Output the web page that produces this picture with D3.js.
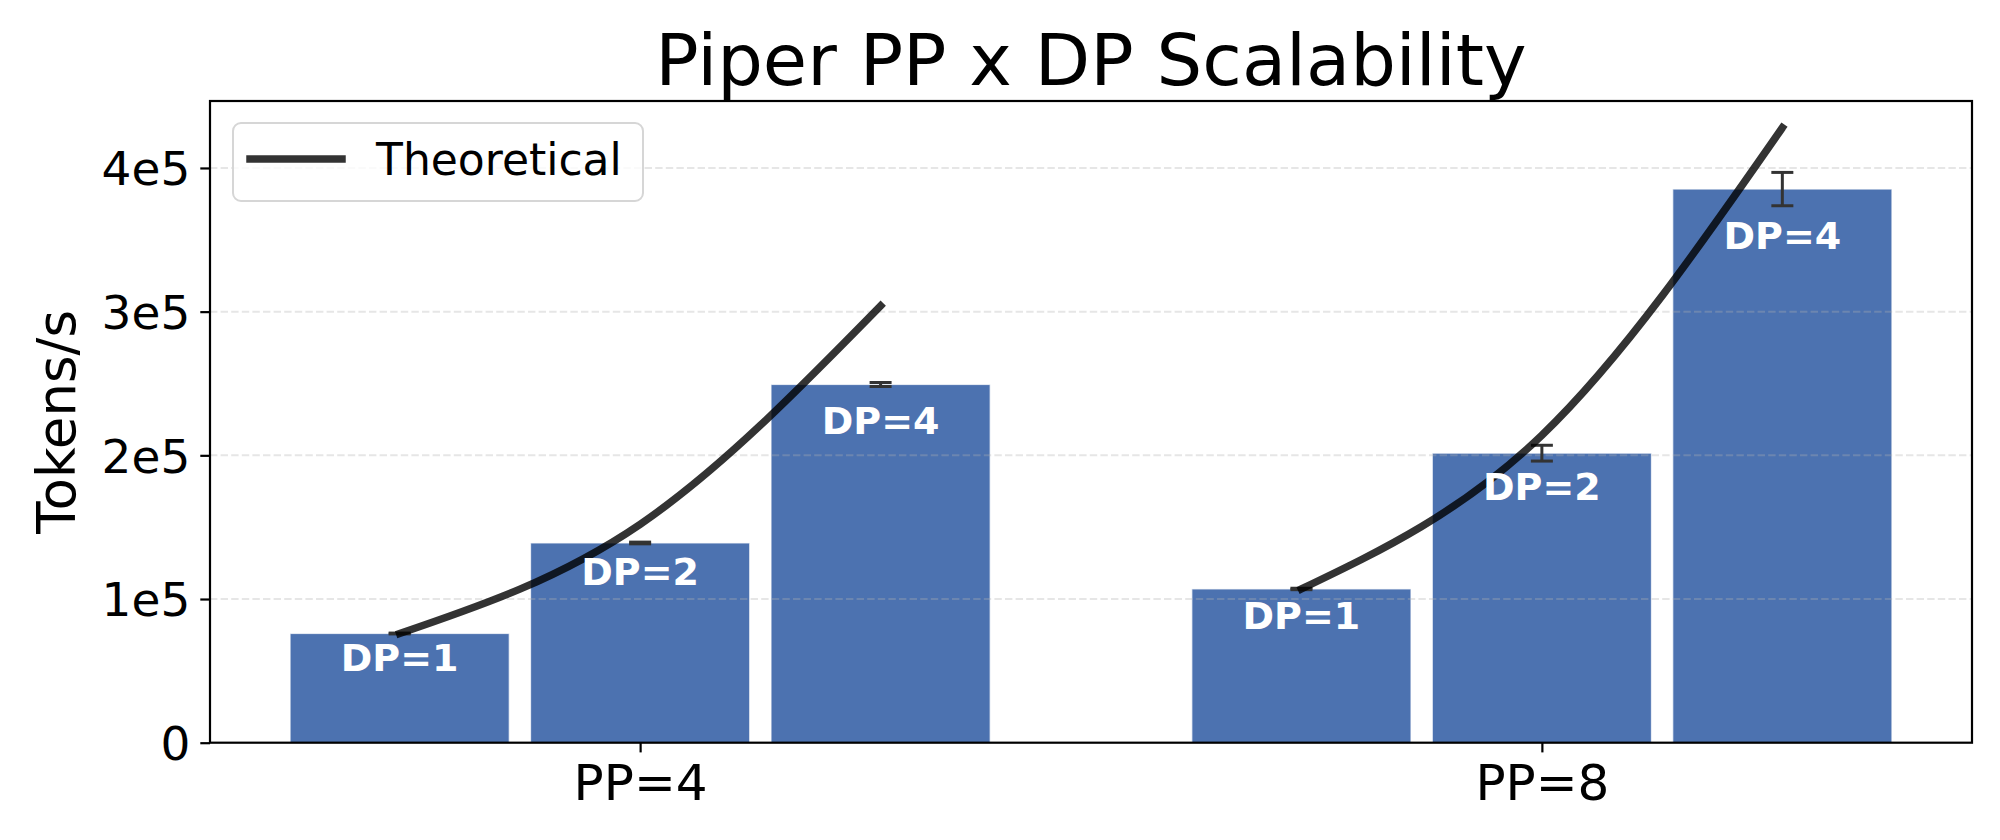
<!DOCTYPE html>
<html>
<head>
<meta charset="utf-8">
<script src="https://cdn.jsdelivr.net/npm/d3@7"></script>
<style>
  html, body { margin: 0; padding: 0; background: #fff; }
  svg { display: block; }
  text { font-family: "DejaVu Sans", sans-serif; }
</style>
</head>
<body>
<svg id="chart" width="2000" height="840"></svg>
<script>
// ---- data ----
const groups = ["PP=4", "PP=8"];
const dpLabels = ["DP=1", "DP=2", "DP=4"];
const pp4Values = [76000, 139000, 249300];
const pp8Values = [107000, 201500, 385300];
const pp4Errors = [300, 600, 1400];
const pp8Errors = [500, 5500, 11600];
const pp4Theory = [76000, 152000, 304000];
const pp8Theory = [107000, 214000, 428000];
const yTicks = [0, 100000, 200000, 300000, 400000];
const yTickLabels = ["0", "1e5", "2e5", "3e5", "4e5"];
const titleText = "Piper PP x DP Scalability";
const yLabelText = "Tokens/s";
const legendLabel = "Theoretical";

const seriesValues = [pp4Values, pp8Values];
const seriesErrors = [pp4Errors, pp8Errors];
const seriesTheory = [pp4Theory, pp8Theory];

// ---- layout ----
const W = 2000, H = 840;
const m = { left: 210, right: 28, top: 101, bottom: 97.3 };
const plotL = m.left, plotR = W - m.right, plotT = m.top, plotB = H - m.bottom;

const step = 0.8 / 3;      // spacing between bars in a group
const barW = 0.243;        // bar width in group units
const extLo = -step - barW / 2, extHi = 1 + step + barW / 2;
const pad = (extHi - extLo) * 0.05;

const x = d3.scaleLinear().domain([extLo - pad, extHi + pad]).range([plotL, plotR]);
const y = d3.scaleLinear().domain([0, 446600]).range([plotB, plotT]);

const svg = d3.select("#chart");

// bars
const bars = [];
groups.forEach((g, gi) => {
  dpLabels.forEach((dp, di) => {
    bars.push({ g: gi, d: di, cx: gi + (di - 1) * step, v: seriesValues[gi][di], e: seriesErrors[gi][di], label: dp });
  });
});

svg.append("g").selectAll("rect").data(bars).join("rect")
  .attr("x", d => x(d.cx - barW / 2))
  .attr("width", d => x(d.cx + barW / 2) - x(d.cx - barW / 2))
  .attr("y", d => y(d.v))
  .attr("height", d => y(0) - y(d.v))
  .attr("fill", "#4C72B0")
  .attr("stroke", "#ffffff")
  .attr("stroke-opacity", 0.7)
  .attr("stroke-width", 1.2);

// grid (drawn over bars, semi-transparent)
svg.append("g").selectAll("line").data(yTicks.slice(1)).join("line")
  .attr("x1", plotL).attr("x2", plotR)
  .attr("y1", d => y(d)).attr("y2", d => y(d))
  .attr("stroke", "#b0b0b0")
  .attr("stroke-opacity", 0.32)
  .attr("stroke-width", 2)
  .attr("stroke-dasharray", "7.4,3.2");

// error bars
const eb = svg.append("g").attr("stroke", "#333").attr("stroke-width", 3);
const capHalf = 11;
bars.forEach(d => {
  const cx = x(d.cx);
  eb.append("line").attr("x1", cx).attr("x2", cx).attr("y1", y(d.v - d.e)).attr("y2", y(d.v + d.e));
  eb.append("line").attr("x1", cx - capHalf).attr("x2", cx + capHalf).attr("y1", y(d.v - d.e)).attr("y2", y(d.v - d.e));
  eb.append("line").attr("x1", cx - capHalf).attr("x2", cx + capHalf).attr("y1", y(d.v + d.e)).attr("y2", y(d.v + d.e));
});

// theoretical lines
const line = d3.line().x(d => x(d[0])).y(d => y(d[1])).curve(d3.curveNatural);
seriesTheory.forEach((arr, gi) => {
  const pts = arr.map((v, di) => [gi + (di - 1) * step, v]);
  svg.append("path").attr("d", line(pts))
    .attr("fill", "none")
    .attr("stroke", "#000")
    .attr("stroke-opacity", 0.8)
    .attr("stroke-width", 7.5)
    .attr("stroke-linecap", "square");
});

// bar labels
svg.append("g").selectAll("text").data(bars).join("text")
  .attr("x", d => x(d.cx))
  .attr("y", d => y(d.v * 0.95) + 32)
  .attr("text-anchor", "middle")
  .attr("fill", "#fff")
  .attr("font-weight", "bold")
  .attr("font-size", 38)
  .text(d => d.label);

// y axis
const yAxis = d3.axisLeft(y).tickValues(yTicks).tickFormat((d, i) => yTickLabels[i]).tickSize(9.7).tickPadding(10);
const ya = svg.append("g").attr("transform", `translate(${plotL},0)`).call(yAxis);
ya.select(".domain").remove();
ya.selectAll(".tick line").attr("stroke", "#000").attr("stroke-width", 2.2);
ya.selectAll(".tick text").attr("font-size", 47).attr("fill", "#000")
  .attr("font-family", "DejaVu Sans").attr("dy", "0.36em");

// x axis
const xAxis = d3.axisBottom(x).tickValues([0, 1]).tickFormat((d, i) => groups[i]).tickSize(9.7).tickPadding(10);
const xa = svg.append("g").attr("transform", `translate(0,${plotB})`).call(xAxis);
xa.select(".domain").remove();
xa.selectAll(".tick line").attr("stroke", "#000").attr("stroke-width", 2.2);
xa.selectAll(".tick text").attr("font-size", 50).attr("fill", "#000")
  .attr("font-family", "DejaVu Sans").attr("dy", "0.76em");

// frame
svg.append("rect")
  .attr("x", plotL).attr("y", plotT)
  .attr("width", plotR - plotL).attr("height", plotB - plotT)
  .attr("fill", "none").attr("stroke", "#000").attr("stroke-width", 2.2);

// title
svg.append("text")
  .attr("x", (plotL + plotR) / 2).attr("y", 85)
  .attr("text-anchor", "middle").attr("font-size", 72).attr("fill", "#000")
  .text(titleText);

// y label
svg.append("text")
  .attr("transform", `translate(75,${(plotT + plotB) / 2}) rotate(-90)`)
  .attr("text-anchor", "middle").attr("font-size", 53).attr("fill", "#000")
  .text(yLabelText);

// legend
const lg = svg.append("g");
lg.append("rect")
  .attr("x", 233).attr("y", 123).attr("width", 410).attr("height", 78)
  .attr("rx", 8).attr("ry", 8)
  .attr("fill", "#fff").attr("fill-opacity", 0.8)
  .attr("stroke", "#d6d6d6").attr("stroke-width", 2);
lg.append("line")
  .attr("x1", 250).attr("x2", 342).attr("y1", 159).attr("y2", 159)
  .attr("stroke", "#000").attr("stroke-opacity", 0.8).attr("stroke-width", 7.5)
  .attr("stroke-linecap", "square");
lg.append("text")
  .attr("x", 376).attr("y", 175).attr("font-size", 44).attr("fill", "#000")
  .text(legendLabel);
</script>
</body>
</html>
